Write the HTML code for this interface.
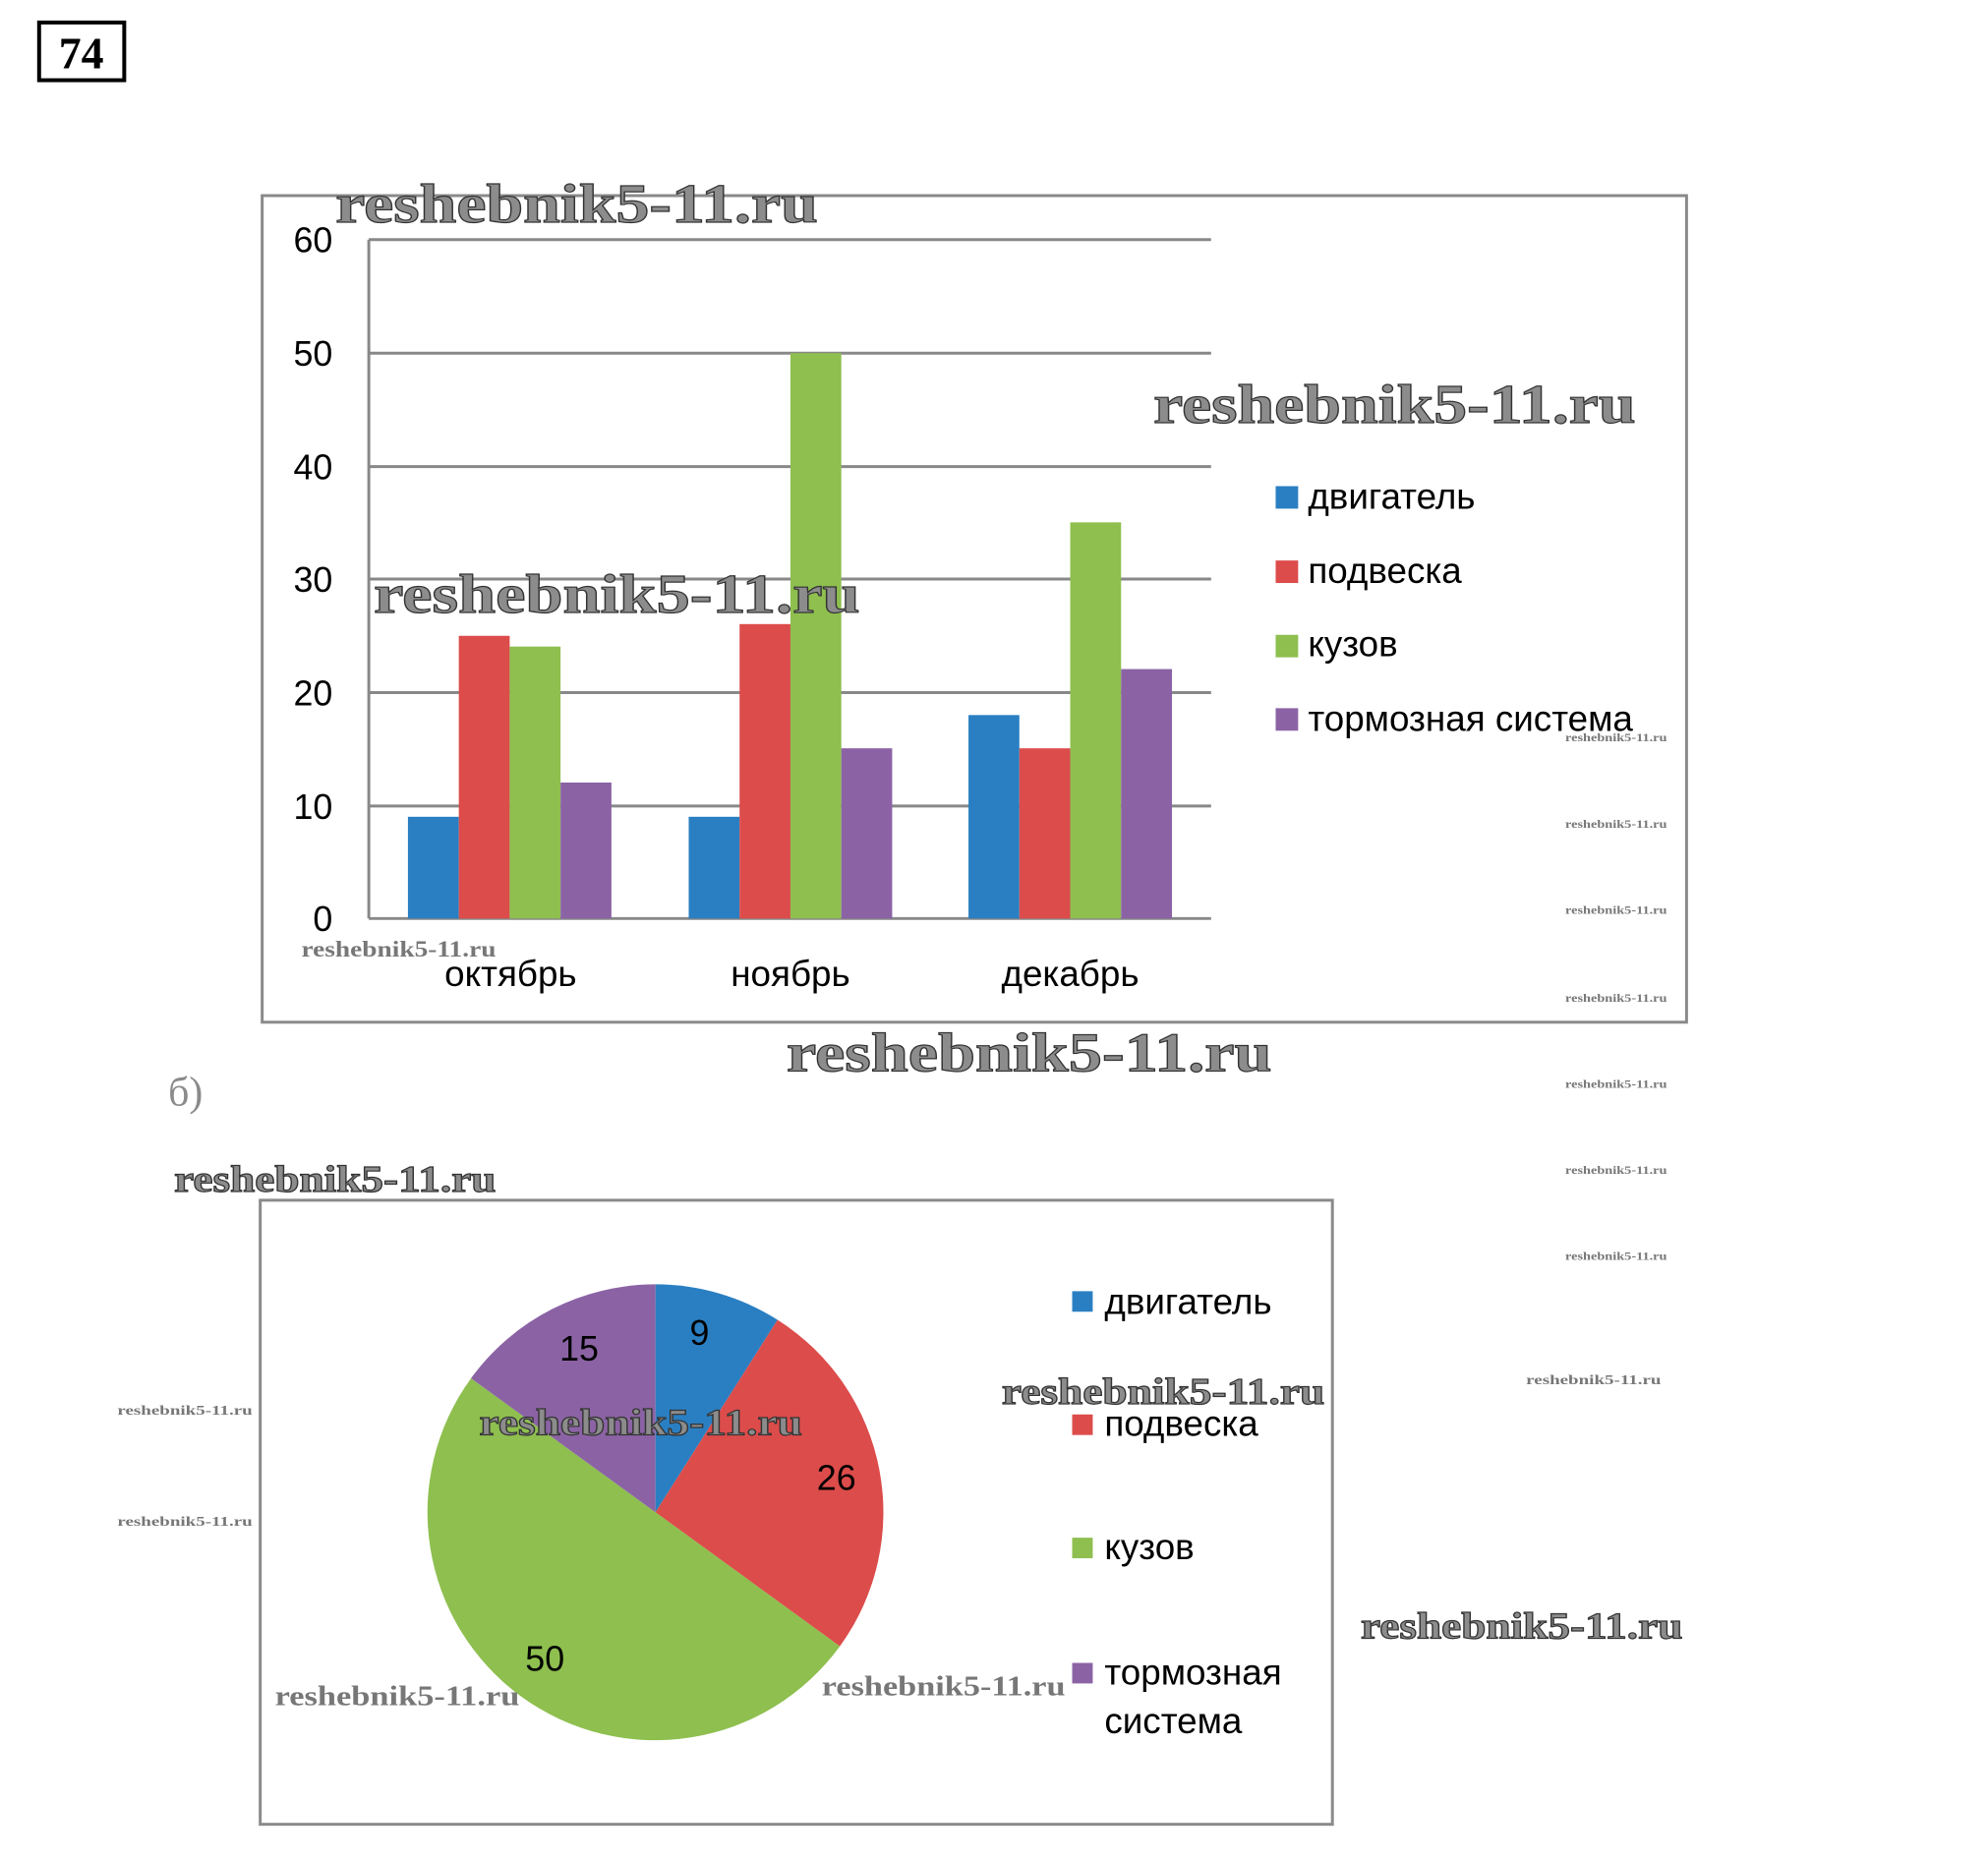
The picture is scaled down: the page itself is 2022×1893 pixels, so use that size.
<!DOCTYPE html>
<html><head><meta charset="utf-8"><style>html,body{margin:0;padding:0;background:#fff}svg{display:block}</style></head>
<body>
<svg width="2022" height="1893" viewBox="0 0 2022 1893" xmlns="http://www.w3.org/2000/svg" font-family="'Liberation Sans', sans-serif">
<rect width="2022" height="1893" fill="#fff"/>
<g transform="scale(0.995)">
<!-- 74 -->
<rect x="40" y="23" width="87" height="59" fill="none" stroke="#000" stroke-width="4"/>
<text x="83" y="70" font-family="'Liberation Serif', serif" font-weight="bold" font-size="46" text-anchor="middle">74</text>

<!-- bar chart frame -->
<rect x="268" y="200" width="1456" height="845" fill="none" stroke="#8a8a8a" stroke-width="3"/>
<g stroke="#888" stroke-width="3">
<line x1="377" y1="245" x2="1238" y2="245"/>
<line x1="377" y1="361" x2="1238" y2="361"/>
<line x1="377" y1="477" x2="1238" y2="477"/>
<line x1="377" y1="592" x2="1238" y2="592"/>
<line x1="377" y1="708" x2="1238" y2="708"/>
<line x1="377" y1="824" x2="1238" y2="824"/>
<line x1="377" y1="939" x2="1238" y2="939"/>
<line x1="377" y1="245" x2="377" y2="939"/>
</g>
<g font-size="36" text-anchor="end" fill="#000">
<text x="340" y="258">60</text><text x="340" y="374">50</text><text x="340" y="490">40</text>
<text x="340" y="605">30</text><text x="340" y="721">20</text><text x="340" y="837">10</text><text x="340" y="952">0</text>
</g>
<g>
<rect x="417" y="835" width="52" height="104" fill="#2a7fc2"/>
<rect x="469" y="650" width="52" height="289" fill="#dc4c4b"/>
<rect x="521" y="661" width="52" height="278" fill="#8ebf4f"/>
<rect x="573" y="800" width="52" height="139" fill="#8b63a5"/>

<rect x="704" y="835" width="52" height="104" fill="#2a7fc2"/>
<rect x="756" y="638" width="52" height="301" fill="#dc4c4b"/>
<rect x="808" y="361" width="52" height="578" fill="#8ebf4f"/>
<rect x="860" y="765" width="52" height="174" fill="#8b63a5"/>

<rect x="990" y="731" width="52" height="208" fill="#2a7fc2"/>
<rect x="1042" y="765" width="52" height="174" fill="#dc4c4b"/>
<rect x="1094" y="534" width="52" height="405" fill="#8ebf4f"/>
<rect x="1146" y="684" width="52" height="255" fill="#8b63a5"/>
</g>
<g font-size="37" text-anchor="middle" fill="#000">
<text x="522" y="1008">октябрь</text><text x="808" y="1008">ноябрь</text><text x="1094" y="1008">декабрь</text>
</g>
<rect x="1304" y="497" width="23" height="23" fill="#2a7fc2"/>
<rect x="1304" y="573" width="23" height="23" fill="#dc4c4b"/>
<rect x="1304" y="649" width="23" height="23" fill="#8ebf4f"/>
<rect x="1304" y="724" width="23" height="23" fill="#8b63a5"/>
<g font-size="37" fill="#000">
<text x="1337" y="520">двигатель</text><text x="1337" y="596">подвеска</text>
<text x="1337" y="671">кузов</text><text x="1337" y="747">тормозная система</text>
</g>

<text x="172" y="1130" font-family="'Liberation Serif', serif" font-size="42" fill="#8a8a8a">б)</text>

<rect x="266" y="1227" width="1096" height="638" fill="none" stroke="#8a8a8a" stroke-width="3"/>
<path d="M670,1546 L670,1313 A233,233 0 0 1 794.8,1349.3 Z" fill="#2a7fc2"/>
<path d="M670,1546 L794.8,1349.3 A233,233 0 0 1 858.5,1683 Z" fill="#dc4c4b"/>
<path d="M670,1546 L858.5,1683 A233,233 0 0 1 481.5,1409 Z" fill="#8ebf4f"/>
<path d="M670,1546 L481.5,1409 A233,233 0 0 1 670,1313 Z" fill="#8b63a5"/>
<g font-size="36" text-anchor="middle" fill="#000">
<text x="715" y="1375">9</text><text x="855" y="1523">26</text><text x="557" y="1708">50</text><text x="592" y="1391">15</text>
</g>
<rect x="1096" y="1320" width="21" height="21" fill="#2a7fc2"/>
<rect x="1096" y="1446" width="21" height="21" fill="#dc4c4b"/>
<rect x="1096" y="1572" width="21" height="21" fill="#8ebf4f"/>
<rect x="1096" y="1700" width="21" height="21" fill="#8b63a5"/>
<g font-size="37" fill="#000">
<text x="1129" y="1343">двигатель</text><text x="1129" y="1468">подвеска</text>
<text x="1129" y="1594">кузов</text><text x="1129" y="1722">тормозная</text><text x="1129" y="1772">система</text>
</g>

<g font-family="'Liberation Serif', serif" font-weight="bold" fill="#8c8c8c" stroke="#333" stroke-width="1.2">
<text x="343" y="227" font-size="56" textLength="493" lengthAdjust="spacingAndGlyphs">reshebnik5-11.ru</text>
<text x="1179" y="432" font-size="56" textLength="493" lengthAdjust="spacingAndGlyphs">reshebnik5-11.ru</text>
<text x="382" y="626" font-size="56" textLength="497" lengthAdjust="spacingAndGlyphs">reshebnik5-11.ru</text>
<text x="804" y="1095" font-size="56" textLength="496" lengthAdjust="spacingAndGlyphs">reshebnik5-11.ru</text>
<text x="178" y="1218" font-size="38" textLength="329" lengthAdjust="spacingAndGlyphs">reshebnik5-11.ru</text>
<text x="1024" y="1435" font-size="38" textLength="330" lengthAdjust="spacingAndGlyphs">reshebnik5-11.ru</text>
<text x="490" y="1467" font-size="38" textLength="330" lengthAdjust="spacingAndGlyphs">reshebnik5-11.ru</text>
<text x="1391" y="1675" font-size="38" textLength="329" lengthAdjust="spacingAndGlyphs">reshebnik5-11.ru</text>
</g>
<g font-family="'Liberation Serif', serif" font-weight="bold" fill="#777">
<text x="281" y="1743" font-size="29" textLength="250" lengthAdjust="spacingAndGlyphs">reshebnik5-11.ru</text>
<text x="840" y="1733" font-size="29" textLength="249" lengthAdjust="spacingAndGlyphs">reshebnik5-11.ru</text>
<text x="308" y="978" font-size="23" textLength="199" lengthAdjust="spacingAndGlyphs">reshebnik5-11.ru</text>
</g>
<g font-family="'Liberation Serif', serif" font-weight="bold" fill="#777" font-size="12">
<text x="1600" y="758" textLength="104" lengthAdjust="spacingAndGlyphs">reshebnik5-11.ru</text>
<text x="1600" y="846" textLength="104" lengthAdjust="spacingAndGlyphs">reshebnik5-11.ru</text>
<text x="1600" y="934" textLength="104" lengthAdjust="spacingAndGlyphs">reshebnik5-11.ru</text>
<text x="1600" y="1024" textLength="104" lengthAdjust="spacingAndGlyphs">reshebnik5-11.ru</text>
<text x="1600" y="1112" textLength="104" lengthAdjust="spacingAndGlyphs">reshebnik5-11.ru</text>
<text x="1600" y="1200" textLength="104" lengthAdjust="spacingAndGlyphs">reshebnik5-11.ru</text>
<text x="1600" y="1288" textLength="104" lengthAdjust="spacingAndGlyphs">reshebnik5-11.ru</text>
<text x="1560" y="1415" font-size="14" textLength="138" lengthAdjust="spacingAndGlyphs">reshebnik5-11.ru</text>
<text x="120" y="1446" font-size="14" textLength="138" lengthAdjust="spacingAndGlyphs">reshebnik5-11.ru</text>
<text x="120" y="1560" font-size="14" textLength="138" lengthAdjust="spacingAndGlyphs">reshebnik5-11.ru</text>
</g>
</g>
</svg>
</body></html>
